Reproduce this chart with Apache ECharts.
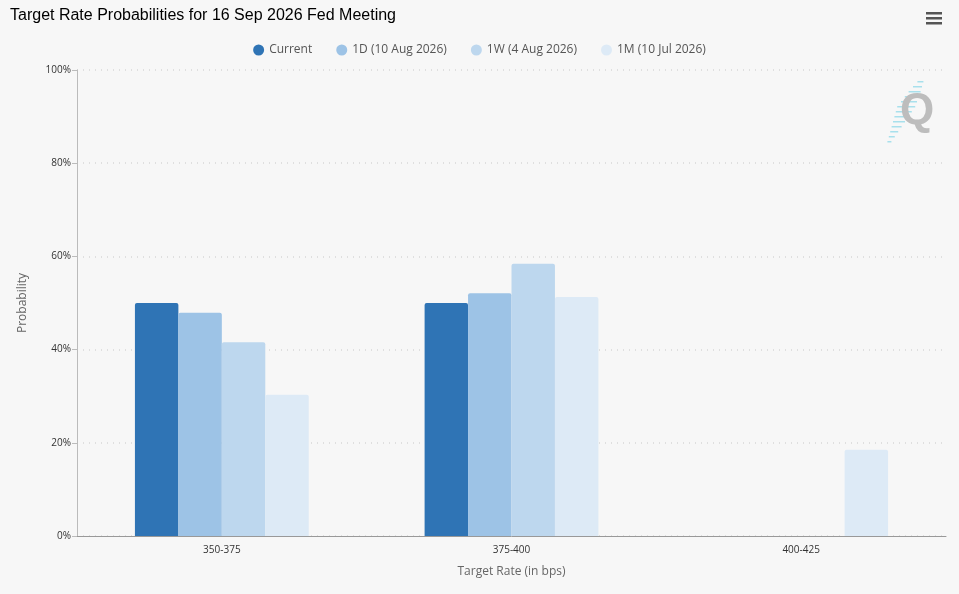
<!DOCTYPE html>
<html>
<head>
<meta charset="utf-8">
<script src="https://cdn.jsdelivr.net/npm/echarts@6/dist/echarts.min.js"></script>
<style>
html, body { margin: 0; padding: 0; background: #f7f7f7; }
#chart-panel { width: 959px; height: 594px; }
</style>
</head>
<body>
<div id="chart-panel"></div>
<script>
var categories = ['350-375', '375-400', '400-425'];
var seriesNames = ['Current', '1D (10 Aug 2026)', '1W (4 Aug 2026)', '1M (10 Jul 2026)'];
var current = [50.0, 50.0, 0];
var oneDay = [47.9, 52.1, 0];
var oneWeek = [41.6, 58.4, 0];
var oneMonth = [30.3, 51.3, 18.5];
var yTicks = [0, 20, 40, 60, 80, 100];

var colors = ['#2f74b5', '#9dc3e6', '#bdd7ee', '#ddeaf6'];
var allData = [current, oneDay, oneWeek, oneMonth];

var myChart = echarts.init(document.getElementById('chart-panel'));

var series = seriesNames.map(function (name, i) {
    return {
        name: name,
        type: 'bar',
        barGap: '0%',
        barCategoryGap: '40%',
        itemStyle: { color: colors[i], borderRadius: [2, 2, 0, 0] },
        data: allData[i]
    };
});

// logo streaks next to the Q
var streaks = [];
var lens = [6, 9, 12, 14, 16, 18, 16, 14, 12, 10, 8, 6, 4];
for (var k = 0; k < lens.length; k++) {
    streaks.push({
        type: 'rect',
        shape: { x: 921 - k * 2.6 - lens[k] * 0.6, y: 81 + k * 5, width: lens[k], height: 1.5 },
        style: { fill: '#a8e0ec' }
    });
}

var option = {
    backgroundColor: '#f7f7f7',
    animation: false,
    color: colors,
    title: {
        text: 'Target Rate Probabilities for 16 Sep 2026 Fed Meeting',
        left: 5,
        top: 3,
        textStyle: { fontFamily: 'Liberation Sans, Arial', fontSize: 16, fontWeight: 'normal', color: '#000' }
    },
    legend: {
        top: 39,
        left: 'center',
        icon: 'circle',
        itemWidth: 11,
        itemHeight: 11,
        itemGap: 24,
        textStyle: { fontFamily: 'Open Sans', fontSize: 12, color: '#555' },
        data: seriesNames
    },
    grid: { left: 77, right: 13, top: 70, bottom: 58 },
    xAxis: {
        type: 'category',
        data: categories,
        name: 'Target Rate (in bps)',
        nameLocation: 'middle',
        nameGap: 30,
        nameTextStyle: { fontFamily: 'Open Sans', fontSize: 12, color: '#666' },
        axisLine: { lineStyle: { color: '#999' } },
        axisTick: { alignWithLabel: true, length: 5, lineStyle: { color: '#999' } },
        axisLabel: { fontFamily: 'Open Sans', fontSize: 10, color: '#333', margin: 9 }
    },
    yAxis: {
        type: 'value',
        min: yTicks[0],
        max: yTicks[yTicks.length - 1],
        interval: 20,
        name: 'Probability',
        nameLocation: 'middle',
        nameGap: 48,
        nameTextStyle: { fontFamily: 'Open Sans', fontSize: 12, color: '#666' },
        axisLine: { show: true, lineStyle: { color: '#bbb' } },
        axisTick: { show: true, length: 5, lineStyle: { color: '#bbb' } },
        axisLabel: { fontFamily: 'Open Sans', fontSize: 10, color: '#333', margin: 6, formatter: '{value}%' },
        splitLine: { lineStyle: { color: '#d8d8d8', type: [1, 5], width: 1.5 } }
    },
    graphic: [
        { type: 'rect', shape: { x: 926, y: 12, width: 16, height: 2.5 }, style: { fill: '#555' } },
        { type: 'rect', shape: { x: 926, y: 17, width: 16, height: 2.5 }, style: { fill: '#555' } },
        { type: 'rect', shape: { x: 926, y: 22, width: 16, height: 2.5 }, style: { fill: '#555' } },
        { type: 'group', children: streaks },
        {
            type: 'text',
            left: 900,
            top: 90,
            style: { text: 'Q', fill: '#bdbdbd', font: 'bold 44px Liberation Sans, Arial' }
        }
    ],
    series: series
};

myChart.setOption(option);
</script>
</body>
</html>
